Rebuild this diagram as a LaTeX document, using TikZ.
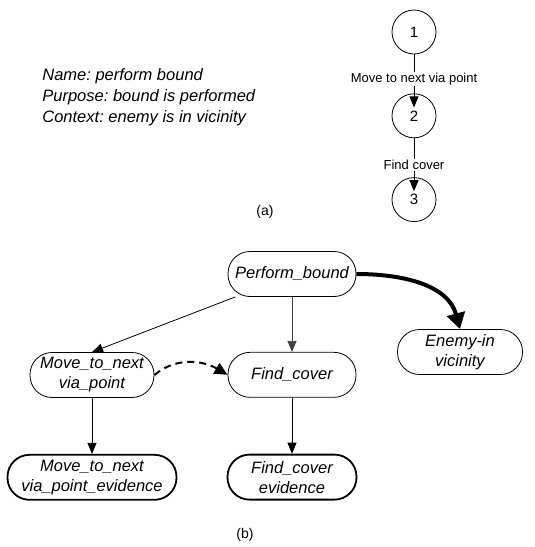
\documentclass[tikz,border=0pt]{standalone}
\usepackage{fontspec}
\setmainfont{Liberation Sans}
\usetikzlibrary{arrows.meta,automata,positioning}
\frenchspacing

\begin{document}
\begin{tikzpicture}[x=1pt,y=-1pt,>={Triangle[length=11pt,width=9pt]},line width=0.8pt,
	every state/.style={draw,line width=0.8pt,minimum size=44pt,inner sep=0pt,font=\fontsize{15}{15}\selectfont},
	goal/.style={draw,rectangle,rounded corners=22pt,minimum height=45pt,align=center,inner sep=1pt,font=\fontsize{16.5}{20}\selectfont\itshape},
	evidence/.style={goal,line width=1.8pt},
	actlabel/.style={fill=white,inner sep=1pt,font=\fontsize{13}{13}\selectfont}]
	\useasboundingbox (0,0) rectangle (535,547);

	\node[anchor=base west,align=left,inner sep=0pt,font=\fontsize{16.5}{21}\selectfont\itshape] (info) at (42,122) {Name: perform bound\\Purpose: bound is performed\\Context: enemy is in vicinity};

	\node[state] (s1) at (414,32) {1};
	\node[state] (s2) [below=39pt of s1] {2};
	\node[state] (s3) [below=39pt of s2] {3};
	\node[font=\fontsize{14}{14}\selectfont] (capa) at (265,212) {(a)};

	\path[->]
	(s1) edge [shorten >=-14pt] node [actlabel,pos=.64] {Move to next via point} (s2)
	(s2) edge [shorten >=-14pt] node [actlabel,pos=.69] {Find cover} (s3)
	;

	\node[goal,minimum width=128pt] (pb) at (292,274) {Perform\_bound};
	\node[goal,minimum width=128pt] (fc) [below=55pt of pb] {Find\_cover};
	\node[goal,minimum width=124pt] (mv) at (92,375) {Move\_to\_next\\via\_point};
	\node[goal,minimum width=125pt] (en) at (460,352) {Enemy-in\\vicinity};
	\node[evidence,minimum width=169pt] (mve) [below=56pt of mv] {Move\_to\_next\\via\_point\_evidence};
	\node[evidence,minimum width=129pt] (fce) [below=56pt of fc] {Find\_cover\\evidence};
	\node[font=\fontsize{14}{14}\selectfont] (capb) at (245,535) {(b)};

	\path[->]
	(pb.-158) edge (mv.north)
	(pb) edge [draw=black!75] (fc)
	(pb.east) edge [line width=4pt,out=0,in=105,-{Triangle[length=16pt,width=18pt]}] (en.north)

	(mv.east) edge [line width=2pt,dash pattern=on 7pt off 5pt,out=40,in=150,-{Triangle[length=13pt,width=12pt]}] (fc.west)

	(mv) edge (mve)
	(fc) edge (fce)
	;
\end{tikzpicture}
\end{document}
